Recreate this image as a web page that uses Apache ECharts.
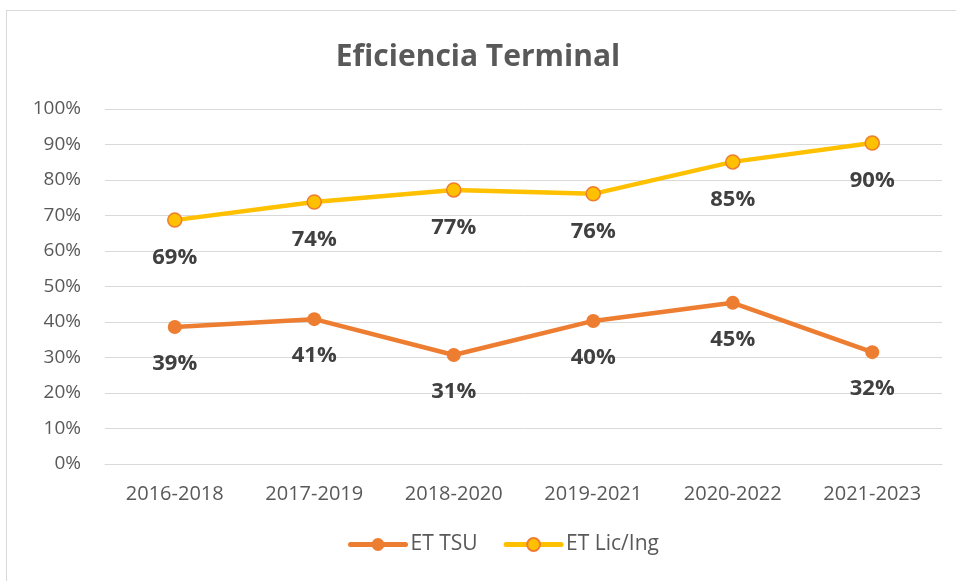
<!DOCTYPE html>
<html><head><meta charset="utf-8">
<script src="https://cdn.jsdelivr.net/npm/echarts@6/dist/echarts.min.js"></script>
<style>
html,body{margin:0;padding:0;background:#fff;}
#frame{position:absolute;left:6px;top:10px;width:1000px;height:700px;border:1px solid #d9d9d9;box-sizing:border-box;}
#c{position:absolute;left:0;top:0;width:956px;height:581px;}
</style></head>
<body>
<div id="frame"></div>
<div id="c"></div>
<script>
const categories = ['2016-2018','2017-2019','2018-2020','2019-2021','2020-2022','2021-2023'];
const etTsu = [0.386, 0.408, 0.307, 0.403, 0.454, 0.315];
const etLic = [0.687, 0.738, 0.772, 0.761, 0.851, 0.904];
const yTicks = [0,0.1,0.2,0.3,0.4,0.5,0.6,0.7,0.8,0.9,1.0];

const FONT = '"Open Sans", sans-serif';
const chart = echarts.init(document.getElementById('c'), null, {renderer:'canvas'});
const labelCfg = {
  show:true, position:'bottom', distance:19,
  formatter: p => Math.round(p.value*100)+'%',
  fontFamily: FONT, fontWeight:'bold', fontSize:22, color:'#404040'
};
chart.setOption({
  animation:false,
  title:{text:'Eficiencia Terminal', left:'center', top:37,
    textStyle:{fontFamily:FONT, fontWeight:'bold', fontSize:30, color:'#595959'}},
  grid:{left:105, right:14, top:109, bottom:117, containLabel:false},
  legend:{bottom:21, left:343, itemWidth:55, itemHeight:16, itemGap:26,
    lineStyle:{width:5, cap:'round'},
    textStyle:{fontFamily:FONT, fontSize:21, color:'#595959'},
    data:['ET TSU','ET Lic/Ing']},
  xAxis:{type:'category', data:categories, boundaryGap:true,
    axisLine:{show:true, lineStyle:{color:'#d9d9d9', width:1}},
    axisTick:{show:false},
    axisLabel:{fontFamily:FONT, fontSize:20, color:'#595959', margin:20}},
  yAxis:{type:'value', min:0, max:1, interval:0.1,
    axisLine:{show:false}, axisTick:{show:false},
    splitLine:{lineStyle:{color:'#d9d9d9', width:1}},
    axisLabel:{fontFamily:FONT, fontSize:19, color:'#595959', margin:24,
      formatter: v => { const t = yTicks.find(x=>Math.abs(x-v)<1e-6); return Math.round((t!==undefined?t:v)*100)+'%'; }}},
  series:[
    {name:'ET TSU', type:'line', data:etTsu, symbol:'circle', symbolSize:14,
      lineStyle:{color:'#ED7D31', width:4.5, cap:'round'}, itemStyle:{color:'#ED7D31'},
      label:labelCfg},
    {name:'ET Lic/Ing', type:'line', data:etLic, symbol:'circle', symbolSize:14,
      lineStyle:{color:'#FFC000', width:4.5, cap:'round'}, itemStyle:{color:'#FFC000', borderColor:'#ED7D31', borderWidth:1.5},
      label:labelCfg}
  ]
});
</script>
</body></html>
